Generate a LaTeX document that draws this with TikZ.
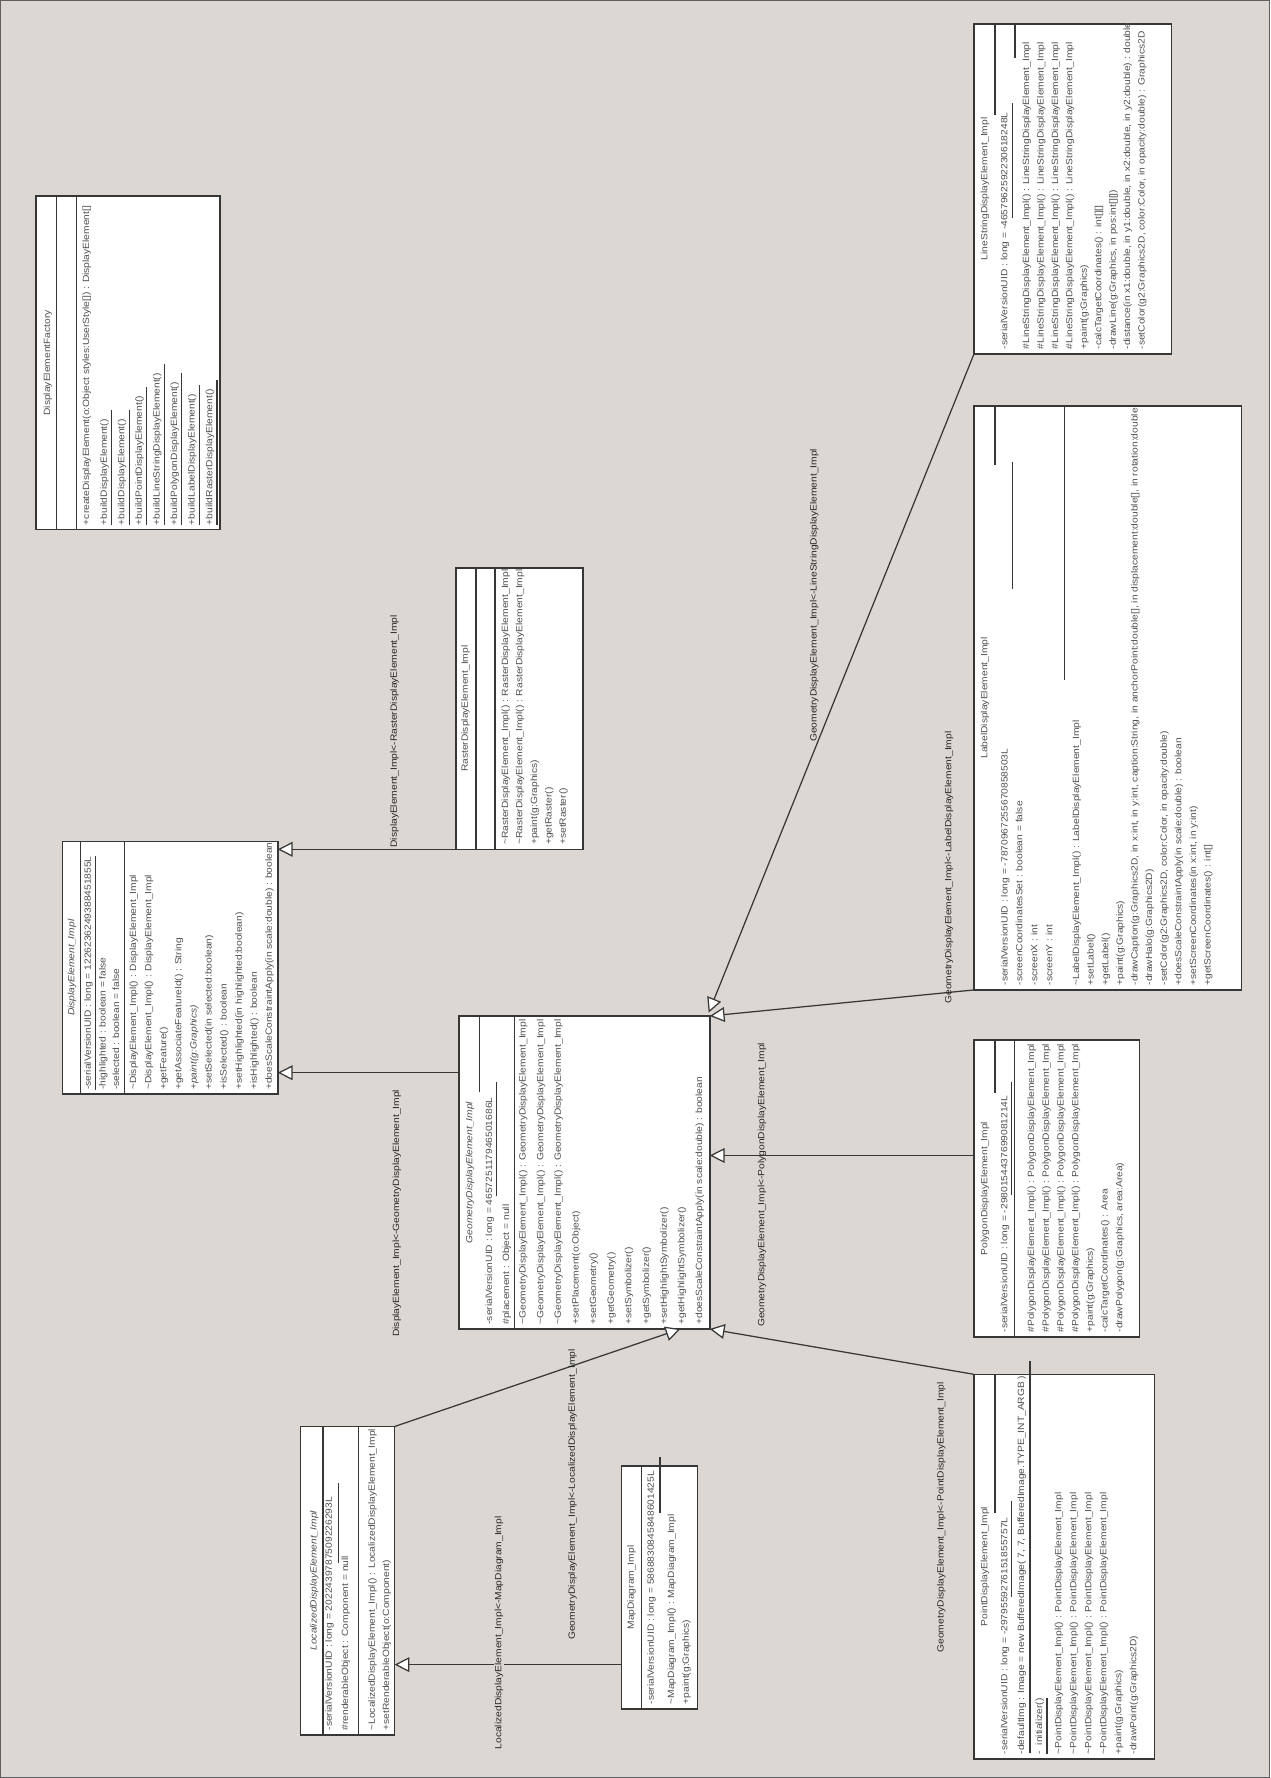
\documentclass[tikz,border=0pt]{standalone}
\usepackage{fontspec}
\setmainfont{Liberation Sans}[FakeStretch=1.13]
\usetikzlibrary{arrows.meta}
\definecolor{bg}{RGB}{220,215,210}
\definecolor{ink}{RGB}{55,55,55}
\definecolor{txtc}{RGB}{80,80,80}
\tikzset{
  box/.style={draw=ink, line width=1.4pt, fill=white, inner sep=0pt, outer sep=0pt},
  sepl/.style={draw=ink, line width=1.2pt},
  uln/.style={draw=ink, line width=1pt},
  tx/.style={rotate=90, anchor=west, inner sep=0pt, outer sep=0pt, font=\fontsize{8}{9}\selectfont, text=txtc, text height=5.8pt, text depth=1.6pt},
  nm/.style={tx, anchor=center},
  cl/.style={rotate=90, inner sep=0pt, font=\fontsize{8}{9}\selectfont, text=black!85},
  inh/.style={draw=ink, line width=1.1pt, -{Triangle[length=13pt, width=13pt, fill=white]}},
  frame/.style={draw=ink!80, line width=0.8pt}
}
\newcommand\mline[4]{\node[tx] (#1) at (#2,#3) {#4};}
\newcommand\uln[1]{\draw[uln] ([xshift=2.6pt]#1.south west) -- ([xshift=2.6pt]#1.south east);}
\newcommand\ulx[1]{\draw[uln] ([xshift=2.6pt]#1.south west) -- ([xshift=2.6pt,yshift=8pt]#1.south east);}
\newcommand\pk{\textasciitilde}
\begin{document}
\begin{tikzpicture}[x=1pt,y=-1pt]
\useasboundingbox (0,0) rectangle (1120,1568);
\fill[bg] (0,0) rectangle (1120,1568);
\draw[frame] (0.5,0.5) rectangle (1119.5,1567.5);

% ---------------- DisplayElementFactory
\node[box, minimum width=162pt, minimum height=294pt] (fact) at (113,320) {};
\draw[sepl] (50,173) -- (50,467);
\draw[sepl] (67.6,173) -- (67.6,467);
\begin{scope}
\clip (32,173) rectangle (194,467);
\node[nm] (factN) at (42,320) {DisplayElementFactory};
\mline{f1}{76.6}{463}{+createDisplayElement(o:Object styles:UserStyle[]) : DisplayElement[]}
\mline{f2}{92.1}{463}{+buildDisplayElement()}
\mline{f3}{107.6}{463}{+buildDisplayElement()}
\mline{f4}{123.1}{463}{+buildPointDisplayElement()}
\mline{f5}{138.6}{463}{+buildLineStringDisplayElement()}
\mline{f6}{154.1}{463}{+buildPolygonDisplayElement()}
\mline{f7}{169.6}{463}{+buildLabelDisplayElement()}
\mline{f8}{185.1}{463}{+buildRasterDisplayElement()}
\ulx{f2}\ulx{f3}\ulx{f4}\ulx{f5}\ulx{f6}\ulx{f7}\ulx{f8}
\end{scope}

% ---------------- DisplayElement_Impl
\node[box, minimum width=190pt, minimum height=223pt] (de) at (150,853.5) {};
\draw[sepl] (71,742) -- (71,965);
\draw[sepl] (110,742) -- (110,965);
\begin{scope}
\clip (55,742) rectangle (245,965);
\node[nm] (deN) at (63.5,853.5) {\itshape DisplayElement\_Impl};
\mline{d1}{78}{961}{-serialVersionUID : long = 1226236249388451855L}
\mline{d2}{91}{961}{-highlighted : boolean = false}
\mline{d3}{103}{961}{-selected : boolean = false}
\mline{d4}{118}{961}{\pk DisplayElement\_Impl() : DisplayElement\_Impl}
\mline{d5}{131.3}{961}{\pk DisplayElement\_Impl() : DisplayElement\_Impl}
\mline{d6}{144.6}{961}{+getFeature()}
\mline{d7}{157.9}{961}{+getAssociateFeatureId() : String}
\mline{d8}{171.2}{961}{+\itshape paint(g:Graphics)}
\mline{d9}{184.5}{961}{+setSelected(in selected:boolean)}
\mline{d10}{197.8}{961}{+isSelected() : boolean}
\mline{d11}{211.1}{961}{+setHighlighted(in highlighted:boolean)}
\mline{d12}{224.4}{961}{+isHighlighted() : boolean}
\mline{d13}{237.7}{961}{+doesScaleConstraintApply(in scale:double) : boolean}
\uln{d1}
\end{scope}

% ---------------- RasterDisplayElement_Impl
\node[box, minimum width=112pt, minimum height=248pt] (raster) at (458,625) {};
\draw[sepl] (419.7,501) -- (419.7,749);
\draw[sepl] (436.5,501) -- (436.5,749);
\begin{scope}
\clip (402,501) rectangle (514,749);
\node[nm] (rasterN) at (410.5,625) {RasterDisplayElement\_Impl};
\mline{r1}{446}{745}{\pk RasterDisplayElement\_Impl() : RasterDisplayElement\_Impl}
\mline{r2}{458.6}{745}{\pk RasterDisplayElement\_Impl() : RasterDisplayElement\_Impl}
\mline{r3}{471.6}{745}{+paint(g:Graphics)}
\mline{r4}{484.4}{745}{+getRaster()}
\mline{r5}{497}{745}{+setRaster()}
\end{scope}

% ---------------- GeometryDisplayElement_Impl
\node[box, minimum width=221pt, minimum height=276pt] (geom) at (515.5,1034) {};
\draw[sepl] (423,896) -- (423,963);
\draw[sepl] (454,896) -- (454,1172);
\draw[uln] (437.5,954) -- (437.5,1055);
\begin{scope}
\clip (405,896) rectangle (626,1172);
\node[nm] (geomN) at (414.5,1034) {\itshape GeometryDisplayElement\_Impl};
\mline{g1}{432}{1168}{-serialVersionUID : long = 465725117946501686L}
\mline{g2}{446.8}{1168}{\#placement : Object = null}
\mline{g3}{461.5}{1168}{\pk GeometryDisplayElement\_Impl() : GeometryDisplayElement\_Impl}
\mline{g4}{477}{1168}{\pk GeometryDisplayElement\_Impl() : GeometryDisplayElement\_Impl}
\mline{g5}{492.6}{1168}{\pk GeometryDisplayElement\_Impl() : GeometryDisplayElement\_Impl}
\mline{g6}{508.1}{1168}{+setPlacement(o:Object)}
\mline{g7}{523.7}{1168}{+setGeometry()}
\mline{g8}{539.2}{1168}{+getGeometry()}
\mline{g9}{554.8}{1168}{+setSymbolizer()}
\mline{g10}{570.3}{1168}{+getSymbolizer()}
\mline{g11}{585.9}{1168}{+setHighlightSymbolizer()}
\mline{g12}{601.4}{1168}{+getHighlightSymbolizer()}
\mline{g13}{617}{1168}{+doesScaleConstraintApply(in scale:double) : boolean}
\end{scope}

% ---------------- LineStringDisplayElement_Impl
\node[box, minimum width=174pt, minimum height=291pt] (line) at (946,166.5) {};
\draw[sepl] (877.4,21) -- (877.4,101);
\draw[sepl] (895,21) -- (895,51);
\draw[uln] (892.7,91) -- (892.7,192);
\begin{scope}
\clip (859,21) rectangle (1033,312);
\node[nm] (lineN) at (868.6,166.5) {LineStringDisplayElement\_Impl};
\mline{l1}{886.3}{308}{-serialVersionUID : long = -4657962592230618248L}
\mline{l2}{905.4}{308}{\#LineStringDisplayElement\_Impl() : LineStringDisplayElement\_Impl}
\mline{l3}{918.2}{308}{\#LineStringDisplayElement\_Impl() : LineStringDisplayElement\_Impl}
\mline{l4}{931}{308}{\#LineStringDisplayElement\_Impl() : LineStringDisplayElement\_Impl}
\mline{l5}{943.7}{308}{\#LineStringDisplayElement\_Impl() : LineStringDisplayElement\_Impl}
\mline{l6}{956.4}{308}{+paint(g:Graphics)}
\mline{l7}{969.2}{308}{-calcTargetCoordinates() : int[][]}
\mline{l8}{981.9}{308}{-drawLine(g:Graphics, in pos:int[][])}
\mline{l9}{994.6}{308}{-distance(in x1:double, in y1:double, in x2:double, in y2:double) : double}
\mline{l10}{1007.4}{308}{-setColor(g2:Graphics2D, color:Color, in opacity:double) : Graphics2D}
\end{scope}

% ---------------- LabelDisplayElement_Impl
\node[box, minimum width=236pt, minimum height=515pt] (label) at (977,615.5) {};
\draw[sepl] (877.4,358) -- (877.4,410);
\draw[sepl] (939,358) -- (939,600);
\draw[uln] (892.7,407) -- (892.7,519);
\begin{scope}
\clip (859,358) rectangle (1095,873);
\node[nm] (labelN) at (868.6,615.5) {LabelDisplayElement\_Impl};
\mline{b1}{886.5}{869}{-serialVersionUID : long = -7870967255670858503L}
\mline{b2}{899.5}{869}{-screenCoordinatesSet : boolean = false}
\mline{b3}{912.7}{869}{-screenX : int}
\mline{b4}{926}{869}{-screenY : int}
\mline{b5}{949.5}{869}{\pk LabelDisplayElement\_Impl() : LabelDisplayElement\_Impl}
\mline{b6}{962.4}{869}{+setLabel()}
\mline{b7}{975.3}{869}{+getLabel()}
\mline{b8}{988.2}{869}{+paint(g:Graphics)}
\mline{b9}{1001.1}{869}{-drawCaption(g:Graphics2D, in x:int, in y:int, caption:String, in anchorPoint:double[], in displacement:double[], in rotation:double}
\mline{b10}{1014}{869}{-drawHalo(g:Graphics2D)}
\mline{b11}{1026.9}{869}{-setColor(g2:Graphics2D, color:Color, in opacity:double)}
\mline{b12}{1039.8}{869}{+doesScaleConstraintApply(in scale:double) : boolean}
\mline{b13}{1052.7}{869}{+setScreenCoordinates(in x:int, in y:int)}
\mline{b14}{1065.6}{869}{+getScreenCoordinates() : int[]}
\end{scope}

% ---------------- PolygonDisplayElement_Impl
\node[box, minimum width=146pt, minimum height=262pt] (poly) at (932,1048) {};
\draw[sepl] (877.4,917) -- (877.4,964);
\draw[sepl] (894.5,917) -- (894.5,1179);
\draw[uln] (892,954) -- (892,1054);
\begin{scope}
\clip (859,917) rectangle (1005,1179);
\node[nm] (polyN) at (868.6,1048) {PolygonDisplayElement\_Impl};
\mline{p1}{886.3}{1175}{-serialVersionUID : long = -2980154437699081214L}
\mline{p2}{909.8}{1175}{\#PolygonDisplayElement\_Impl() : PolygonDisplayElement\_Impl}
\mline{p3}{922.8}{1175}{\#PolygonDisplayElement\_Impl() : PolygonDisplayElement\_Impl}
\mline{p4}{935.8}{1175}{\#PolygonDisplayElement\_Impl() : PolygonDisplayElement\_Impl}
\mline{p5}{948.8}{1175}{\#PolygonDisplayElement\_Impl() : PolygonDisplayElement\_Impl}
\mline{p6}{961.7}{1175}{+paint(g:Graphics)}
\mline{p7}{974.7}{1175}{-calcTargetCoordinates() : Area}
\mline{p8}{987.7}{1175}{-drawPolygon(g:Graphics, area:Area)}
\end{scope}

% ---------------- PointDisplayElement_Impl
\node[box, minimum width=159pt, minimum height=339pt] (point) at (938.5,1381.5) {};
\draw[sepl] (877.4,1212) -- (877.4,1334);
\draw[sepl] (908.3,1200) -- (908.3,1546);
\draw[uln] (892,1324) -- (892,1408);
\begin{scope}
\clip (859,1212) rectangle (1018,1551);
\node[nm] (pointN) at (868.6,1381.5) {PointDisplayElement\_Impl};
\mline{q1}{886.3}{1547}{-serialVersionUID : long = -2979559276151855757L}
\mline{q2}{901}{1547}{-defaultImg : Image = new BufferedImage( 7, 7, BufferedImage.TYPE\_INT\_ARGB )}
\mline{q3}{917}{1547}{-\ \ initializer()}
\mline{q4}{934}{1547}{\pk PointDisplayElement\_Impl() : PointDisplayElement\_Impl}
\mline{q5}{947.2}{1547}{\pk PointDisplayElement\_Impl() : PointDisplayElement\_Impl}
\mline{q6}{960.4}{1547}{\pk PointDisplayElement\_Impl() : PointDisplayElement\_Impl}
\mline{q7}{973.6}{1547}{\pk PointDisplayElement\_Impl() : PointDisplayElement\_Impl}
\mline{q8}{986.8}{1547}{+paint(g:Graphics)}
\mline{q9}{1000}{1547}{-drawPoint(g:Graphics2D)}
\uln{q3}
\end{scope}

% ---------------- LocalizedDisplayElement_Impl
\node[box, minimum width=83pt, minimum height=272pt] (local) at (306.5,1394) {};
\draw[sepl] (285,1258) -- (285,1530);
\draw[sepl] (316,1258) -- (316,1530);
\draw[uln] (298.4,1308) -- (298.4,1378);
\begin{scope}
\clip (265,1258) rectangle (348,1530);
\node[nm] (localN) at (277.2,1394) {\itshape LocalizedDisplayElement\_Impl};
\mline{c1}{290.6}{1526}{-serialVersionUID : long = 2022439787509226293L}
\mline{c2}{305}{1526}{\#renderableObject : Component = null}
\mline{c3}{328.6}{1526}{\pk LocalizedDisplayElement\_Impl() : LocalizedDisplayElement\_Impl}
\mline{c4}{341}{1526}{+setRenderableObject(o:Component)}
\end{scope}

% ---------------- MapDiagram_Impl
\node[box, minimum width=67pt, minimum height=214pt] (map) at (581.5,1400) {};
\draw[sepl] (566,1293) -- (566,1507);
\draw[sepl] (582,1285) -- (582,1334);
\begin{scope}
\clip (548,1293) rectangle (615,1507);
\node[nm] (mapN) at (557,1400) {MapDiagram\_Impl};
\mline{m1}{574.5}{1503}{-serialVersionUID : long = 5868830845848601425L}
\mline{m2}{592.5}{1503}{\pk MapDiagram\_Impl() : MapDiagram\_Impl}
\mline{m3}{605.5}{1503}{+paint(g:Graphics)}
\end{scope}

% ---------------- connectors
\draw[inh] (raster.south west) -- (raster.south west -| de.east);
\draw[inh] ([yshift=-50pt]geom.north west) -- ([yshift=-50pt]geom.north west -| de.east);
\draw[inh] (line.south west) -- ([xshift=-1pt,yshift=3pt]geom.north east);
\draw[inh] (label.south west) -- (geom.north east);
\draw[inh] ([yshift=-102pt]poly.north west) -- ([yshift=-102pt]poly.north west -| geom.east);
\draw[inh] (point.north west) -- (geom.south east);
\draw[inh] (local.north east) -- ([xshift=-26pt]geom.south east);
\draw[inh] ([yshift=-175pt]map.north west) -- ([yshift=-175pt]map.north west -| local.east);

% ---------------- connector labels
\node[cl] (lab1) at (348,645) {DisplayElement\_Impl<-RasterDisplayElement\_Impl};
\node[cl] (lab2) at (350,1070) {DisplayElement\_Impl<-GeometryDisplayElement\_Impl};
\node[cl] (lab3) at (718,525) {GeometryDisplayElement\_Impl<-LineStringDisplayElement\_Impl};
\node[cl] (lab4) at (837,765) {GeometryDisplayElement\_Impl<-LabelDisplayElement\_Impl};
\node[cl] (lab5) at (672,1045) {GeometryDisplayElement\_Impl<-PolygonDisplayElement\_Impl};
\node[cl] (lab6) at (830,1338) {GeometryDisplayElement\_Impl<-PointDisplayElement\_Impl};
\node[cl] (lab7) at (505,1318) {GeometryDisplayElement\_Impl<-LocalizedDisplayElement\_Impl};
\node[cl, fill=bg, inner sep=1pt] (lab8) at (440,1440) {LocalizedDisplayElement\_Impl<-MapDiagram\_Impl};
\end{tikzpicture}
\end{document}
